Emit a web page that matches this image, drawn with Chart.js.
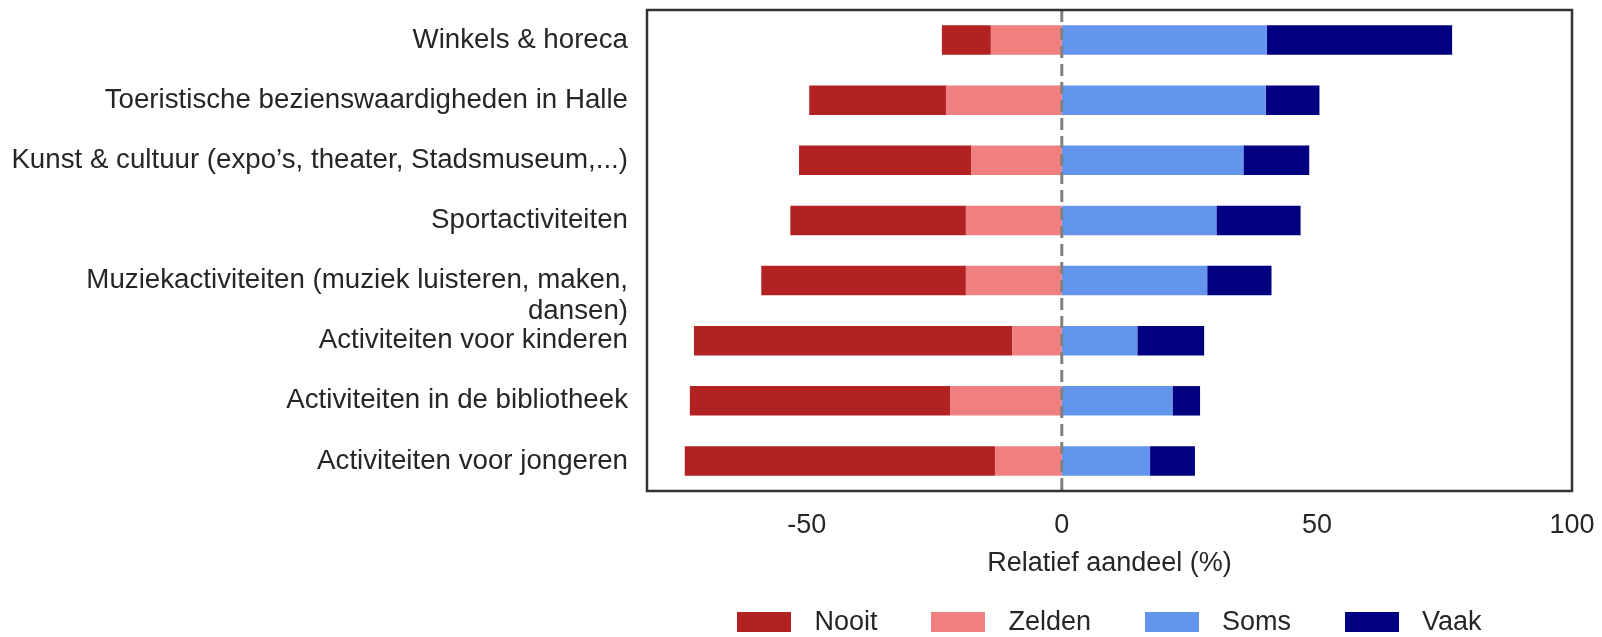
<!DOCTYPE html>
<html>
<head>
<meta charset="utf-8">
<title>Relatief aandeel</title>
<script src="https://cdn.jsdelivr.net/npm/chart.js@4.4.1/dist/chart.umd.min.js"></script>
<style>
  html, body {
    margin: 0;
    padding: 0;
    background: #ffffff;
    overflow: hidden;
  }
  #wrap {
    position: relative;
    width: 1602px;
    height: 637px;
  }
  #legend {
    position: absolute;
    left: 647px;
    width: 925px;
    top: 606px;
    display: flex;
    justify-content: center;
    align-items: center;
    font-family: "Liberation Sans", Arial, sans-serif;
    font-size: 27px;
    line-height: 31px;
    color: #262626;
  }
  .legendItem {
    display: flex;
    align-items: center;
    margin-left: 54px;
  }
  .legendItem:first-child {
    margin-left: 0;
  }
  .legendBox {
    width: 54px;
    height: 20px;
    margin-right: 23px;
  }
</style>
</head>
<body>
<div id="wrap">
  <canvas id="likertChart"></canvas>
  <div id="legend"></div>
</div>

<script>
/*******************************************
 * DATA
 *******************************************/

const categories = [
  "Winkels & horeca",
  "Toeristische bezienswaardigheden in Halle",
  "Kunst & cultuur (expo’s, theater, Stadsmuseum,...)",
  "Sportactiviteiten",
  // leading empty line so the first line sits level with the bar (like the original)
  ["", "Muziekactiviteiten (muziek luisteren, maken,", "dansen)"],
  "Activiteiten voor kinderen",
  "Activiteiten in de bibliotheek",
  "Activiteiten voor jongeren",
];

// percentages per answer, same order as categories
const nooit = [9.6, 26.8, 33.8, 34.4, 40.1, 62.4, 51.0, 60.8];
const zelden = [13.9, 22.7, 17.7, 18.8, 18.8, 9.7, 21.9, 13.1];
const soms = [40.2, 40.0, 35.6, 30.3, 28.5, 14.8, 21.7, 17.3];
const vaak = [36.3, 10.5, 12.9, 16.5, 12.6, 13.1, 5.4, 8.8];

const xTicks = [-50, 0, 50, 100];
const xTitle = "Relatief aandeel (%)";
const legendLabels = ["Nooit", "Zelden", "Soms", "Vaak"];

const colors = {
  Nooit: "#b22222",
  Zelden: "#f08080",
  Soms: "#6495ed",
  Vaak: "#000080",
};

const textColor = "#262626";
const fontFamily = '"Liberation Sans", Arial, sans-serif';

/*******************************************
 * PLUGINS (frame + dashed zero line)
 *******************************************/

const framePlugin = {
  id: "frame",
  afterDatasetsDraw(chart) {
    const { ctx, chartArea } = chart;
    const xScale = chart.scales.x;
    const zeroX = xScale.getPixelForValue(0);

    // dashed line at zero, on top of the bars
    ctx.save();
    ctx.strokeStyle = "#808080";
    ctx.lineWidth = 3;
    ctx.setLineDash([12, 6]);
    ctx.beginPath();
    ctx.moveTo(zeroX, chartArea.top);
    ctx.lineTo(zeroX, chartArea.bottom);
    ctx.stroke();
    ctx.restore();

    // box around the plot
    ctx.save();
    ctx.strokeStyle = "#333333";
    ctx.lineWidth = 2.5;
    ctx.strokeRect(
      chartArea.left,
      chartArea.top,
      chartArea.right - chartArea.left,
      chartArea.bottom - chartArea.top
    );
    ctx.restore();
  },
};

/*******************************************
 * CHART
 *******************************************/

// negatives stack to the left: Zelden first so it sits next to zero
const datasets = [
  { label: "Zelden", data: zelden.map((v) => -v), backgroundColor: colors.Zelden },
  { label: "Nooit", data: nooit.map((v) => -v), backgroundColor: colors.Nooit },
  { label: "Soms", data: soms, backgroundColor: colors.Soms },
  { label: "Vaak", data: vaak, backgroundColor: colors.Vaak },
].map((ds) => ({
  ...ds,
  borderWidth: 0,
  barPercentage: 0.49,
  categoryPercentage: 1.0,
}));

const ctx = document.getElementById("likertChart");
new Chart(ctx, {
  type: "bar",
  data: {
    labels: categories,
    datasets: datasets,
  },
  plugins: [framePlugin],
  options: {
    indexAxis: "y",
    responsive: true,
    maintainAspectRatio: false,
    animation: false,
    layout: {
      padding: { top: 10, right: 30, bottom: 0, left: 0 },
    },
    plugins: {
      legend: { display: false },
      tooltip: { enabled: false },
    },
    scales: {
      x: {
        stacked: true,
        min: -81.3,
        max: 100,
        grid: { display: false },
        border: { display: false },
        afterBuildTicks: (scale) => {
          scale.ticks = xTicks.map((v) => ({ value: v }));
        },
        afterFit: (scale) => {
          // fixed height, no extra side padding from the tick labels
          scale.height = 146;
          scale.paddingLeft = 0;
          scale.paddingRight = 0;
        },
        ticks: {
          color: textColor,
          padding: 10,
          font: { family: fontFamily, size: 27 },
        },
        title: {
          display: true,
          text: xTitle,
          color: textColor,
          padding: { top: 0, bottom: 57 },
          font: { family: fontFamily, size: 27 },
        },
      },
      y: {
        stacked: true,
        grid: { display: false },
        border: { display: false },
        afterFit: (scale) => {
          scale.width = 647;
          scale.paddingTop = 0;
          scale.paddingBottom = 0;
        },
        ticks: {
          color: textColor,
          padding: 11,
          autoSkip: false,
          font: { family: fontFamily, size: 27.7, lineHeight: 1.1 },
        },
      },
    },
  },
});

// legend below the axis title
const legendEl = document.getElementById("legend");
legendLabels.forEach((name) => {
  const item = document.createElement("div");
  item.className = "legendItem";
  const box = document.createElement("span");
  box.className = "legendBox";
  box.style.background = colors[name];
  const txt = document.createElement("span");
  txt.textContent = name;
  item.appendChild(box);
  item.appendChild(txt);
  legendEl.appendChild(item);
});
</script>
</body>
</html>
